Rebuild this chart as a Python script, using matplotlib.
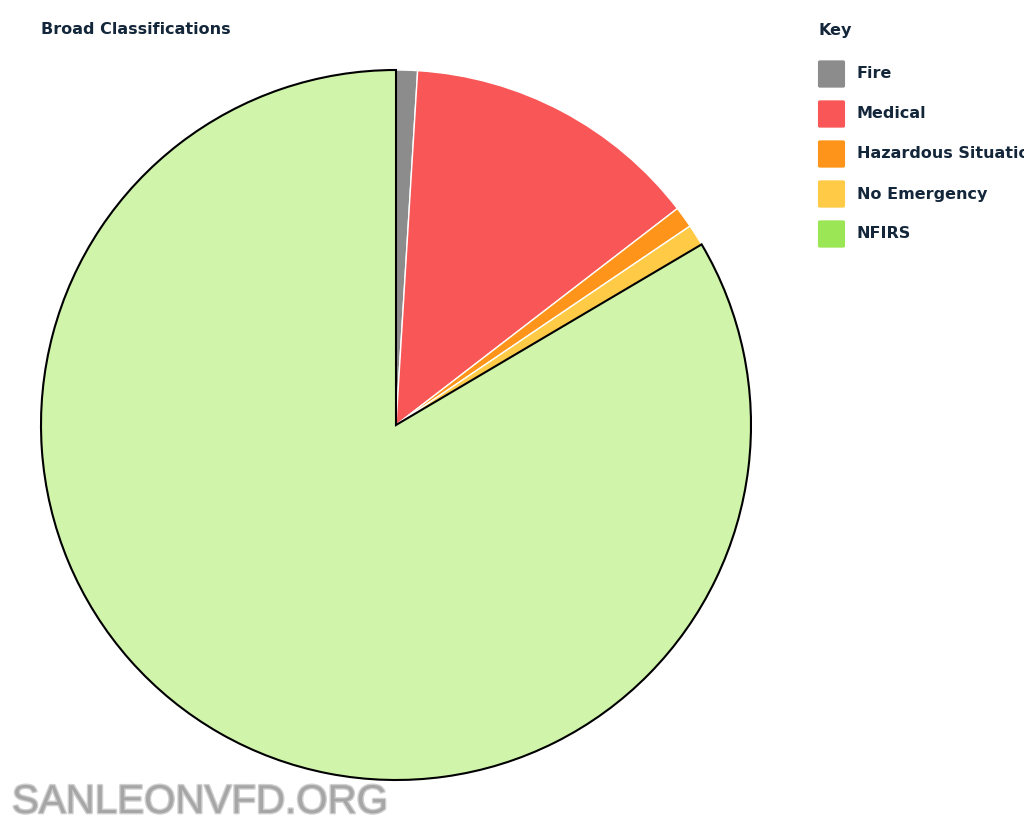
import matplotlib
matplotlib.use("Agg")
import matplotlib.pyplot as plt
from matplotlib.patches import FancyBboxPatch
import matplotlib.patheffects as pe

categories = ["Fire", "Medical", "Hazardous Situation", "No Emergency", "NFIRS"]
values = [1, 14, 1, 1, 86]
slice_colors = ["#8c8c8c", "#f95757", "#fe9419", "#ffca45", "#d0f4aa"]
key_colors = ["#8c8c8c", "#f95757", "#fe9419", "#ffca45", "#9be655"]

W, H = 1024, 825
fig = plt.figure(figsize=(W / 100, H / 100), dpi=100)
fig.patch.set_facecolor("white")

cx, cy, r = 396, 425, 355
pad = 1.01
ax = fig.add_axes([(cx - r * pad) / W, (H - cy - r * pad) / H, 2 * r * pad / W, 2 * r * pad / H])
wedges, _ = ax.pie(values, colors=slice_colors, startangle=90, counterclock=False,
                   radius=1.0, wedgeprops=dict(edgecolor="white", linewidth=1.0))
wedges[-1].set_edgecolor("black")
wedges[-1].set_linewidth(1.5)
wedges[-1].set_zorder(5)
ax.set_xlim(-pad, pad)
ax.set_ylim(-pad, pad)
ax.set_aspect("equal")
ax.axis("off")

text_color = "#13263a"
fig.text(41 / W, 1 - 29 / H, "Broad Classifications", fontsize=11.5, fontweight="bold",
         color=text_color, va="center", ha="left", family="DejaVu Sans")
fig.text(818 / W, 1 - 30 / H, "Key", fontsize=11.5, fontweight="bold",
         color=text_color, va="center", ha="left", family="DejaVu Sans")

for i, (lab, col) in enumerate(zip(categories, key_colors)):
    yc = 74 + 40 * i
    box = FancyBboxPatch(((818 + 2) / W, 1 - (yc + 12) / H), 23 / W, 24 / H,
                         boxstyle="round,pad=0.002", transform=fig.transFigure,
                         facecolor=col, edgecolor="none")
    fig.patches.append(box)
    fig.text(857 / W, 1 - yc / H, lab, fontsize=11.5, fontweight="bold",
             color=text_color, va="center", ha="left", family="DejaVu Sans")

fig.text(12 / W, 1 - 802 / H, "SANLEONVFD.ORG", fontsize=29, color="#a6a6a6",
         family="Liberation Sans", va="center", ha="left",
         path_effects=[pe.withStroke(linewidth=2, foreground="#d0d0d0")])

fig.savefig("out.png", dpi=100, facecolor="white")
